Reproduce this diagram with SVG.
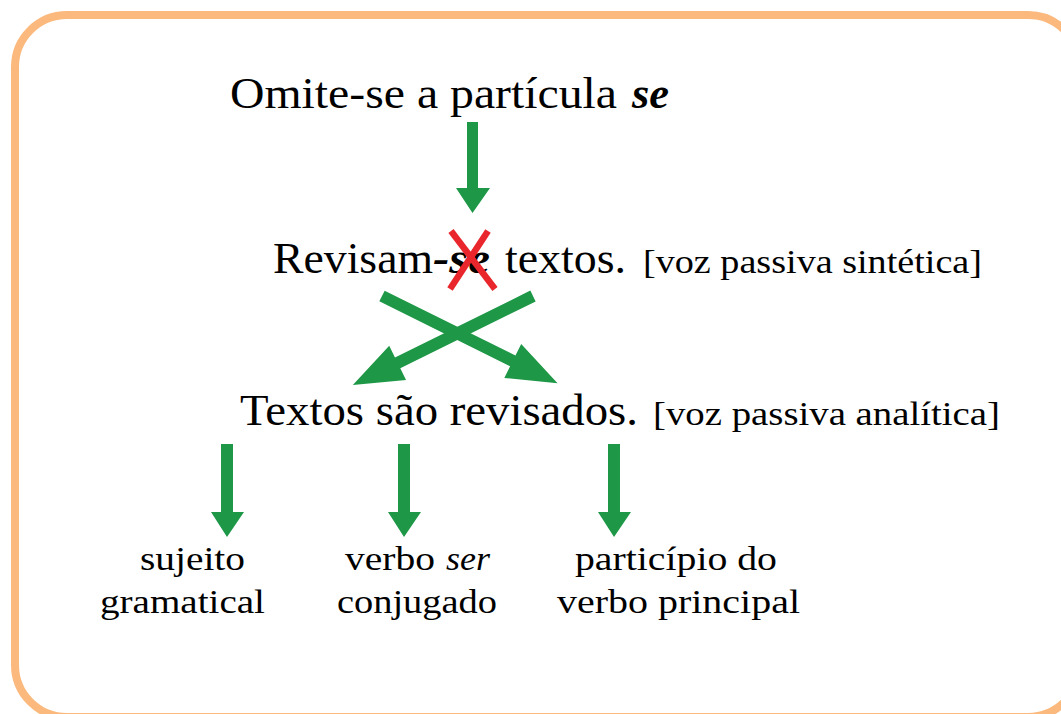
<svg xmlns="http://www.w3.org/2000/svg" width="1061" height="714" viewBox="0 0 1061 714">
<defs>
<style>
.t{font-family:"Liberation Serif","DejaVu Serif",serif;fill:#000;}
.big{font-size:44px;}
.sm{font-size:33px;}
.lab{font-size:34px;}
.bi{font-weight:bold;font-style:italic;}
.arr{fill:#1E9747;}
</style>
</defs>
<rect x="15" y="15" width="1065" height="702" rx="52" ry="52" fill="#fff" stroke="#FBB97E" stroke-width="8"/>
<g id="n1">
<text class="t big" x="230" y="108" textLength="387" lengthAdjust="spacingAndGlyphs">Omite-se a partícula</text>
<text class="t big bi" x="632" y="108" textLength="37" lengthAdjust="spacingAndGlyphs">se</text>
</g>
<g id="n2">
<text class="t big" x="273" y="273" textLength="160" lengthAdjust="spacingAndGlyphs">Revisam</text>
<text class="t big bi" x="433" y="273" textLength="57" lengthAdjust="spacingAndGlyphs">-se</text>
<text class="t big" x="505" y="273" textLength="121" lengthAdjust="spacingAndGlyphs">textos.</text>
<text class="t sm" x="643" y="273" textLength="339" lengthAdjust="spacingAndGlyphs">[voz passiva sintética]</text>
<g stroke="#E8262B" stroke-width="6.5"><line x1="451" y1="231" x2="495" y2="289"/><line x1="488" y1="231" x2="450" y2="289"/></g>
</g>
<g id="n3">
<text class="t big" x="240" y="425" textLength="398" lengthAdjust="spacingAndGlyphs">Textos são revisados.</text>
<text class="t sm" x="653" y="425" textLength="347" lengthAdjust="spacingAndGlyphs">[voz passiva analítica]</text>
</g>
<g id="n4">
<text class="t lab" x="140" y="570" textLength="105" lengthAdjust="spacingAndGlyphs">sujeito</text>
<text class="t lab" x="100" y="613" textLength="165" lengthAdjust="spacingAndGlyphs">gramatical</text>
</g>
<g id="n5">
<text class="t lab" x="345" y="570" textLength="90" lengthAdjust="spacingAndGlyphs">verbo</text>
<text class="t lab" x="446" y="570" textLength="44" lengthAdjust="spacingAndGlyphs" font-style="italic">ser</text>
<text class="t lab" x="337" y="613" textLength="160" lengthAdjust="spacingAndGlyphs">conjugado</text>
</g>
<g id="n6">
<text class="t lab" x="575" y="570" textLength="202" lengthAdjust="spacingAndGlyphs">particípio do</text>
<text class="t lab" x="557" y="613" textLength="243" lengthAdjust="spacingAndGlyphs">verbo principal</text>
</g>
<g id="connectors" class="arr">
<polygon points="467,122 478,122 478,188 490,188 472.5,213 456,188 467,188"/>
<polygon points="221,444 233,444 233,512 244,512 227,537 211,512 221,512"/>
<polygon points="398,444 410,444 410,512 421,512 404,537 388,512 398,512"/>
<polygon points="608,444 620,444 620,512 631,512 614,537 598,512 608,512"/>
<polygon points="0,-6 146,-6 146,-19 196,0 146,19 146,6 0,6" transform="translate(382,296) rotate(26.4)"/>
<polygon points="0,-6 151,-6 151,-19 201,0 151,19 151,6 0,6" transform="translate(533,296) rotate(153.7)"/>
</g>
</svg>
